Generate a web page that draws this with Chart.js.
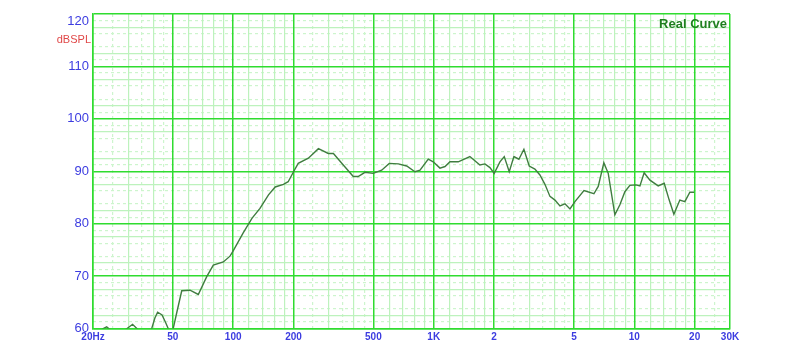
<!DOCTYPE html>
<html>
<head>
<meta charset="utf-8">
<script src="https://cdn.jsdelivr.net/npm/chart.js@4.4.1/dist/chart.umd.min.js"></script>
<style>
  html, body { margin: 0; padding: 0; background: #fff; }
  #wrap { width: 800px; height: 359px; }
</style>
</head>
<body>
<div id="wrap"><canvas id="chart" width="800" height="359"></canvas></div>
<script>
const freqHz = [21.7, 22.5, 23.4, 24.3, 26, 28.9, 31.5, 33.5, 36.3, 38.9, 40.7, 42, 44.2, 46.2, 48.4,
  50.1, 52.3, 55.4, 60.9, 67, 73.8, 79.6, 89.3, 96.4, 100, 112, 124, 136, 150, 162, 178, 188,
  200, 211, 237, 266, 298, 316, 354, 397, 420, 454, 499, 550, 600, 666, 733, 806, 854, 939, 994,
  1074, 1138, 1205, 1325, 1514, 1699, 1800, 1906, 2002, 2138, 2247, 2379, 2510, 2658, 2815, 2993,
  3194, 3384, 3584, 3797, 4021, 4259, 4511, 4777, 5059, 5610, 6290, 6608, 7049, 7413, 8000, 8474,
  8975, 9506, 10186, 10666, 11196, 11967, 13155, 14094, 14930, 15750, 16868, 17866, 18924, 19880];
const splDb = [59.5, 60.0, 60.3, 59.8, 59.0, 59.7, 60.8, 59.8, 58.5, 59.5, 62.0, 63.1, 62.6, 61.0, 59.2,
  59.8, 63.0, 67.2, 67.3, 66.5, 69.9, 72.1, 72.7, 73.8, 74.8, 78.2, 81.0, 82.9, 85.5, 87.0, 87.5, 88.0,
  89.9, 91.5, 92.5, 94.3, 93.4, 93.4, 91.2, 89.0, 89.0, 89.8, 89.6, 90.2, 91.5, 91.4, 91.0, 89.9, 90.2, 92.3, 91.8,
  90.6, 90.9, 91.8, 91.8, 92.8, 91.2, 91.4, 90.7, 89.6, 91.8, 92.8, 89.9, 92.8, 92.3, 94.2, 91.0,
  90.4, 89.3, 87.5, 85.2, 84.5, 83.4, 83.8, 82.8, 84.2, 86.3, 85.7, 87.1, 91.6, 89.6, 81.7, 83.6,
  86.1, 87.3, 87.4, 87.2, 89.7, 88.3, 87.2, 87.7, 84.5, 81.8, 84.5, 84.2, 86.0, 86.0];

const xMajor = [20, 50, 100, 200, 500, 1000, 2000, 5000, 10000, 20000, 30000];
const xLabels = ['20Hz', '50', '100', '200', '500', '1K', '2', '5', '10', '20', '30K'];
const xMinor = [30, 40, 60, 70, 80, 90, 120, 140, 160, 180, 300, 400, 600, 700, 800, 900,
  1200, 1400, 1600, 1800, 3000, 4000, 6000, 7000, 8000, 9000, 12000, 14000, 16000, 18000];
const xDashed = [25, 35, 45, 250, 350, 450, 2500, 3500, 4500, 25000];

const yMajor = [60, 65, 70, 75, 80, 85, 90, 95, 100, 105, 110, 115, 120];
const yMinor = [62.5, 67.5, 72.5, 77.5, 82.5, 87.5, 92.5, 97.5, 102.5, 107.5, 112.5, 117.5];
const yDashed = [61.25, 63.75, 66.25, 68.75, 71.25, 73.75, 76.25, 78.75, 81.25, 83.75, 86.25, 88.75,
  91.25, 93.75, 96.25, 98.75, 101.25, 103.75, 106.25, 108.75, 111.25, 113.75, 116.25, 118.75];

const MAJOR = '#2fdc2f';
const MINOR = '#bdf2bd';
const DASH = '#cdf5cd';
const BLUE = '#3c3ce0';

const setTicks = list => scale => { scale.ticks = list.map(v => ({ value: v })); };
const noSize = scale => { if (scale.isHorizontal()) scale.height = 0; else scale.width = 0; };

function hiddenAxis(type, pos, list, color, z, dash) {
  return {
    type: type, position: pos,
    min: type === 'logarithmic' ? 20 : 60,
    max: type === 'logarithmic' ? 30000 : 120,
    afterBuildTicks: setTicks(list),
    afterFit: noSize,
    ticks: { display: false },
    grid: { color: color, lineWidth: 1.2, drawTicks: false, z: z },
    border: { display: false, dash: dash || [] }
  };
}

const texts = {
  id: 'texts',
  afterDraw(chart) {
    const ctx = chart.ctx;
    ctx.save();
    ctx.textBaseline = 'middle';
    ctx.textAlign = 'right';
    ctx.fillStyle = '#e04848';
    ctx.font = '11px "Liberation Sans", Arial, sans-serif';
    ctx.fillText('dBSPL', 91, 40);
    ctx.fillStyle = '#1f7f1f';
    ctx.font = 'bold 13px "Liberation Sans", Arial, sans-serif';
    ctx.fillText('Real Curve', 727, 24);
    ctx.restore();
  }
};

new Chart(document.getElementById('chart'), {
  type: 'line',
  data: {
    datasets: [{
      data: freqHz.map((f, i) => ({ x: f, y: splDb[i] })),
      borderColor: '#3f7d3f',
      borderWidth: 1.4,
      pointRadius: 0,
      tension: 0,
      fill: false
    }]
  },
  options: {
    responsive: false,
    animation: false,
    layout: { padding: { left: 0, right: 70, top: 14, bottom: 0 } },
    plugins: { legend: { display: false }, tooltip: { enabled: false } },
    scales: {
      x: {
        type: 'logarithmic', position: 'bottom', min: 20, max: 30000,
        afterBuildTicks: setTicks(xMajor),
        afterFit: s => { s.height = 30.5; },
        ticks: {
          autoSkip: false, maxRotation: 0, padding: 3, color: BLUE,
          font: { family: '"Liberation Sans", Arial, sans-serif', size: 10, weight: 'bold' },
          callback: v => xLabels[xMajor.indexOf(v)]
        },
        grid: { color: MAJOR, lineWidth: 1.5, drawTicks: false, z: -1 },
        border: { color: MAJOR, width: 1.5 }
      },
      xMin: hiddenAxis('logarithmic', 'bottom', xMinor, MINOR, -3),
      xDash: hiddenAxis('logarithmic', 'bottom', xDashed, DASH, -4, [3, 3]),
      y: {
        type: 'linear', position: 'left', min: 60, max: 120,
        afterBuildTicks: setTicks(yMajor),
        afterFit: s => { s.width = 93; s.paddingTop = 0; s.paddingBottom = 0; },
        ticks: {
          padding: 4, color: BLUE,
          font: { family: '"Liberation Sans", Arial, sans-serif', size: 13 },
          // top label sits just under the frame, as in the original
          callback: v => (v === 120 ? ['', '120'] : (v % 10 === 0 ? String(v) : ''))
        },
        grid: { color: MAJOR, lineWidth: 1.5, drawTicks: false, z: -1 },
        border: { color: MAJOR, width: 1.5 }
      },
      yMin: hiddenAxis('linear', 'left', yMinor, MINOR, -3),
      yDash: hiddenAxis('linear', 'left', yDashed, DASH, -4, [3, 3])
    }
  },
  plugins: [texts]
});
</script>
</body>
</html>
